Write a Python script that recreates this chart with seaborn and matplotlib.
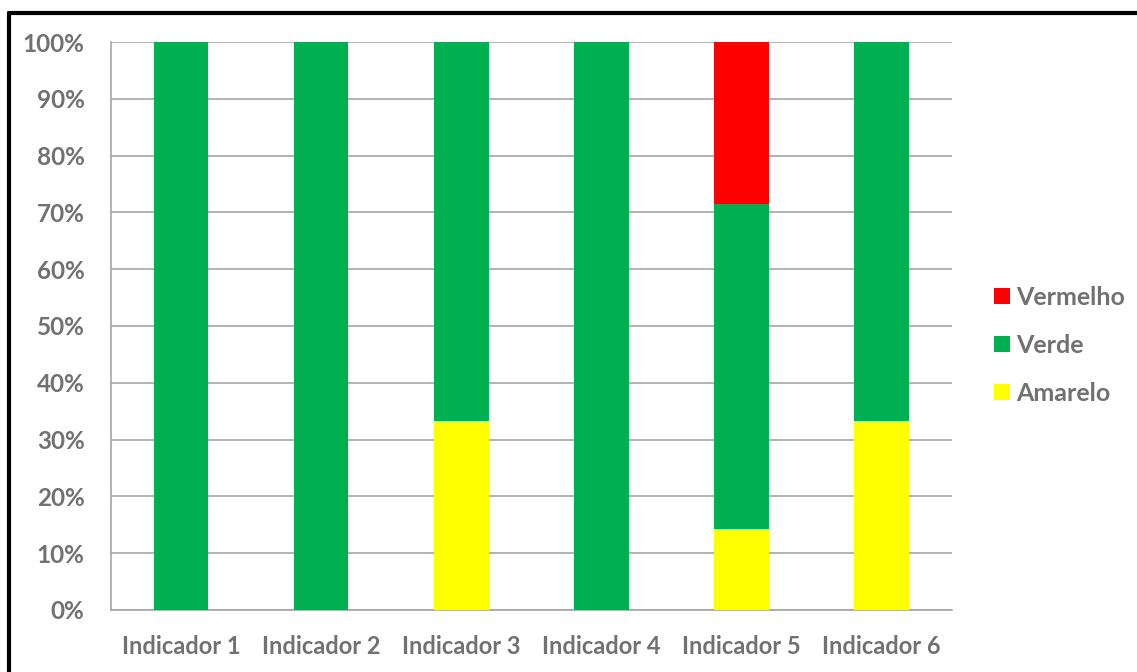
import matplotlib
matplotlib.use('Agg')
import matplotlib.pyplot as plt
from matplotlib.lines import Line2D
from matplotlib.patches import Patch
import numpy as np
import pandas as pd
import seaborn as sns

# Data (percent of each indicator)
categorias = ['Indicador 1', 'Indicador 2', 'Indicador 3', 'Indicador 4', 'Indicador 5', 'Indicador 6']
amarelo = [0, 0, 33.3, 0, 14.3, 33.3]
verde = [100, 100, 66.7, 100, 57.1, 66.7]
vermelho = [0, 0, 0, 0, 28.6, 0]

cores = {'Amarelo': '#FFFF00', 'Verde': '#00B050', 'Vermelho': '#FF0000'}
cinza = '#717171'

sns.set_style('white')
plt.rcParams['font.family'] = ['Lato', 'DejaVu Sans']
plt.rcParams['font.weight'] = 'bold'

df = pd.DataFrame({'cat': categorias, 'Amarelo': amarelo, 'Verde': verde, 'Vermelho': vermelho})
# cumulative totals, drawn from the top down so lower layers cover upper ones
df['c_am'] = df['Amarelo']
df['c_ve'] = df['Amarelo'] + df['Verde']
df['c_vm'] = df['c_ve'] + df['Vermelho']

fig = plt.figure(figsize=(11.37, 6.72), dpi=100)
ax = fig.add_axes([0.0976, 0.0923, 0.7394, 0.8452])

for col, nome in [('c_vm', 'Vermelho'), ('c_ve', 'Verde'), ('c_am', 'Amarelo')]:
    sns.barplot(data=df, x='cat', y=col, color=cores[nome], width=0.39,
                saturation=1, ax=ax, linewidth=0, zorder=3)

ax.set_xlim(-0.5, 5.5)
ax.set_ylim(0, 100)
ax.set_yticks(np.arange(0, 101, 10))
ax.set_yticklabels([f'{v}%' for v in range(0, 101, 10)])
ax.set_xlabel('')
ax.set_ylabel('')

ax.yaxis.grid(True, color='#a6a6a6', linewidth=1.2, zorder=0)
ax.set_axisbelow(True)
for s in ['top', 'right']:
    ax.spines[s].set_visible(False)
for s in ['left', 'bottom']:
    ax.spines[s].set_color('#a6a6a6')
    ax.spines[s].set_linewidth(1.2)

ax.set_xticks(np.arange(-0.5, 5.6, 1), minor=True)
ax.tick_params(axis='x', which='major', length=0, pad=18, labelsize=17, labelcolor=cinza)
ax.tick_params(axis='x', which='minor', length=6, width=1.2, color='#a6a6a6', direction='out')
ax.tick_params(axis='y', length=6, width=1.2, color='#a6a6a6', pad=13, labelsize=17.5, labelcolor=cinza)
for lab in ax.get_xticklabels() + ax.get_yticklabels():
    lab.set_fontweight('bold')

handles = [Patch(facecolor=cores[n], edgecolor='none', label=n) for n in ['Vermelho', 'Verde', 'Amarelo']]
leg = ax.legend(handles=handles, loc='center left', bbox_to_anchor=(0.874, 0.486),
                bbox_transform=fig.transFigure, frameon=False, handlelength=0.65,
                handleheight=0.65, handletextpad=0.25, labelspacing=1.0,
                borderaxespad=0, borderpad=0, prop={'size': 18, 'weight': 'bold'})
for t in leg.get_texts():
    t.set_color(cinza)

# chart border (top and left edges visible in the reference)
fig.add_artist(Line2D([9 / 1137, 1], [1 - 12.5 / 672] * 2, color='black', linewidth=3, transform=fig.transFigure))
fig.add_artist(Line2D([9 / 1137] * 2, [0, 1 - 12.5 / 672], color='black', linewidth=3, transform=fig.transFigure))

fig.savefig('out.png', dpi=100)
